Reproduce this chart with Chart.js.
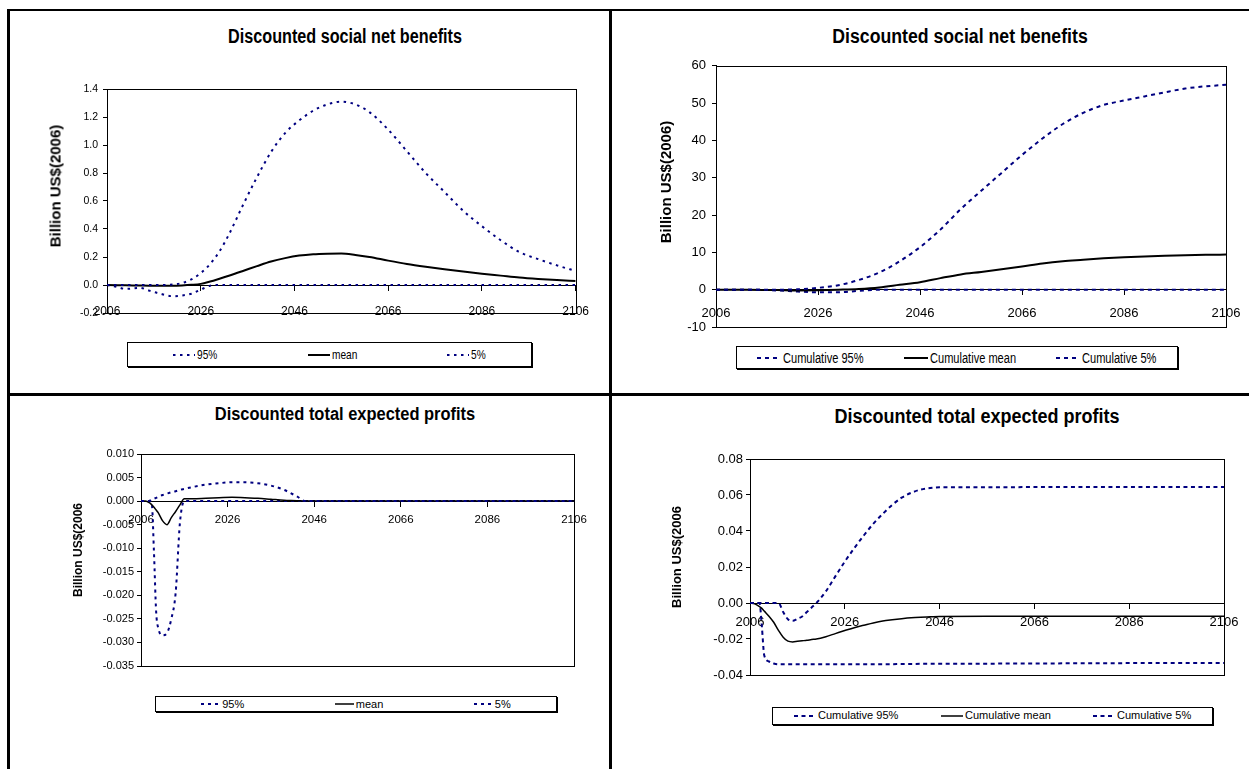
<!DOCTYPE html>
<html lang="en">
<head>
    <meta charset="UTF-8">
    <meta name="viewport" content="width=device-width, initial-scale=1.0">
    <title>Discounted social net benefits and expected profits</title>
    <script src="https://cdn.jsdelivr.net/npm/chart.js"></script>
    <style>
        body {
            margin: 0;
            background: #fff;
            color: #000;
            font-family: "Liberation Sans", Arial, sans-serif;
        }
        #page { position: relative; width: 1249px; height: 769px; overflow: hidden; }
        .rule { position: absolute; background: #000; }
        canvas { position: absolute; }
        .title, .ytitle { position: absolute; font-weight: bold; line-height: 1; white-space: nowrap; }
        .legend {
            position: absolute;
            box-sizing: border-box;
            border: 1px solid #000;
            box-shadow: 1px 1px 0 #000;
            display: flex;
            justify-content: space-around;
            align-items: center;
        }
        .legend .item { display: flex; align-items: center; white-space: nowrap; }
        .legend .txt { display: inline-block; transform-origin: left center; line-height: 1; }
    </style>
</head>
<body>
<div id="page">
    <!-- table frame round the four charts -->
    <div class="rule" style="left:7px;top:9px;width:1242px;height:2px"></div>
    <div class="rule" style="left:7px;top:9px;width:3px;height:760px"></div>
    <div class="rule" style="left:609px;top:9px;width:3px;height:760px"></div>
    <div class="rule" style="left:7px;top:393px;width:1242px;height:3px"></div>
</div>

<script>
    // shared
    const xLabels = ['2006', '2026', '2046', '2066', '2086', '2106'];
    const namesA = ['95%', 'mean', '5%'];
    const namesB = ['Cumulative 95%', 'Cumulative mean', 'Cumulative 5%'];

    // top left: discounted social net benefits
    const years1 = [2006, 2008, 2010, 2013, 2015, 2017, 2020, 2022, 2024, 2026, 2028, 2030, 2032, 2035, 2038, 2041, 2044,
        2047, 2050, 2053, 2056, 2059, 2062, 2066, 2070, 2074, 2078, 2082, 2086, 2090, 2094, 2098, 2102, 2106];
    const p1High = [0, 0, 0, 0, 0, 0, 0.004, 0.014, 0.04, 0.085, 0.15, 0.24, 0.36, 0.57, 0.77, 0.95, 1.085,
        1.175, 1.245, 1.29, 1.31, 1.29, 1.235, 1.11, 0.955, 0.80, 0.665, 0.53, 0.42, 0.32, 0.235, 0.185, 0.14, 0.10];
    const p1Mean = [0, -0.001, -0.002, -0.004, -0.005, -0.005, -0.005, -0.003, 0.001, 0.008, 0.025, 0.045, 0.066, 0.10, 0.135, 0.168, 0.192,
        0.21, 0.22, 0.224, 0.225, 0.215, 0.2, 0.174, 0.15, 0.13, 0.112, 0.096, 0.081, 0.067, 0.053, 0.043, 0.035, 0.028];
    const p1Low = [0, -0.012, -0.028, -0.02, -0.04, -0.059, -0.08, -0.075, -0.062, -0.033, -0.005, 0, 0, 0, 0, 0, 0,
        0, 0, 0, 0, 0, 0, 0, 0, 0, 0, 0, 0, 0, 0, 0, 0, 0];
    const yLabels1 = ['-0.2', '0.0', '0.2', '0.4', '0.6', '0.8', '1.0', '1.2', '1.4'];

    // top right: cumulative discounted social net benefits
    const years2 = [2006, 2012, 2018, 2022, 2026, 2030, 2034, 2038, 2042, 2046, 2050, 2054, 2058, 2062, 2066,
        2070, 2074, 2078, 2082, 2086, 2090, 2094, 2098, 2102, 2106];
    const p2High = [0, 0, 0, 0.1, 0.5, 1.2, 2.6, 4.6, 7.6, 11.4, 16.1, 21.6, 26.5, 31.3, 36.1,
        40.5, 44.4, 47.4, 49.5, 50.7, 51.8, 52.9, 53.9, 54.5, 54.9];
    const p2Mean = [0, 0, -0.1, -0.2, -0.15, 0.0, 0.2, 0.6, 1.3, 2.0, 3.1, 4.1, 4.75, 5.45, 6.2,
        7.0, 7.6, 8.0, 8.4, 8.7, 8.9, 9.1, 9.25, 9.35, 9.4];
    const p2Low = [0, 0, -0.2, -0.5, -0.7, -0.7, -0.3, 0, 0, 0, 0, 0, 0, 0, 0,
        0, 0, 0, 0, 0, 0, 0, 0, 0, 0];
    const yLabels2 = ['-10', '0', '10', '20', '30', '40', '50', '60'];

    // bottom left: discounted total expected profits
    const years3 = [2006, 2007, 2008, 2008.5, 2009, 2009.5, 2010, 2011, 2012, 2013, 2014, 2015, 2016, 2018, 2021,
        2024, 2027, 2030, 2033, 2036, 2039, 2042, 2044, 2046, 2056, 2066, 2076, 2086, 2096, 2106];
    const p3High = [0, 0, 0.0001, 0.0003, 0.0005, 0.0007, 0.0009, 0.0013, 0.0016, 0.0019, 0.0021, 0.0024, 0.0026, 0.003, 0.0035,
        0.0038, 0.004, 0.004, 0.0038, 0.0033, 0.0024, 0.001, 0, 0, 0, 0, 0, 0, 0, 0];
    const p3Mean = [0, 0, -0.0004, -0.0008, -0.0013, -0.0019, -0.0025, -0.0042, -0.005, -0.0035, -0.0022, -0.0008, 0.0005, 0.0005, 0.0006,
        0.0007, 0.0008, 0.0007, 0.0006, 0.0004, 0.0002, 0.0001, 0, 0, 0, 0, 0, 0, 0, 0];
    const p3Low = [0, 0, 0, -0.0006, -0.011, -0.0235, -0.027, -0.0285, -0.028, -0.025, -0.0195, -0.0045, 0, 0, 0,
        0, 0, 0, 0, 0, 0, 0, 0, 0, 0, 0, 0, 0, 0, 0];
    const yLabels3 = ['-0.035', '-0.030', '-0.025', '-0.020', '-0.015', '-0.010', '-0.005', '0.000', '0.005', '0.010'];

    // bottom right: cumulative discounted total expected profits
    const years4 = [2006, 2007, 2008, 2008.5, 2009, 2010, 2011, 2012, 2013, 2014, 2015, 2016, 2017, 2018, 2019, 2020,
        2022, 2024, 2026, 2028, 2030, 2032, 2034, 2036, 2038, 2040, 2042, 2044, 2046, 2056, 2066, 2076, 2086, 2096, 2106];
    const p4High = [0, 0, 0, 0, 0, 0, 0, 0, -0.005, -0.009, -0.0099, -0.0088, -0.0075, -0.005, -0.0025, 0,
        0.0065, 0.0148, 0.023, 0.0305, 0.0375, 0.044, 0.0495, 0.0545, 0.0585, 0.0612, 0.063, 0.0639, 0.0643,
        0.0643, 0.0644, 0.0644, 0.0645, 0.0645, 0.0645];
    const p4Mean = [0, -0.0005, -0.002, -0.003, -0.0045, -0.0073, -0.0107, -0.0152, -0.019, -0.0212, -0.0216, -0.0213, -0.021, -0.0207, -0.0203, -0.02,
        -0.0187, -0.017, -0.0153, -0.0137, -0.0124, -0.0111, -0.01, -0.0093, -0.0087, -0.0082, -0.0079, -0.0077, -0.0075,
        -0.0074, -0.0074, -0.0074, -0.0074, -0.0074, -0.0074];
    const p4Low = [0, 0, 0, -0.013, -0.029, -0.0325, -0.0336, -0.034, -0.034, -0.034, -0.034, -0.034, -0.034, -0.034, -0.034, -0.034,
        -0.034, -0.034, -0.034, -0.034, -0.034, -0.034, -0.034, -0.034, -0.0339, -0.0339, -0.0338, -0.0338, -0.0338,
        -0.0337, -0.0336, -0.0335, -0.0334, -0.0334, -0.0334];
    const yLabels4 = ['-0.04', '-0.02', '0.00', '0.02', '0.04', '0.06', '0.08'];

    const NAVY = '#000080';
    Chart.defaults.font.family = "'Liberation Sans', Arial, sans-serif";
    Chart.defaults.color = '#000';

    // layout of each panel (page pixels)
    const panels = [
        {
            title: 'Discounted social net benefits', titleSize: 19.5, titleSx: 0.83, titleX: 345, titleBase: 43.3,
            yTitle: 'Billion US$(2006)', yTitleSize: 15, yTitleX: 55, yTitleY: 186,
            area: [107, 89, 577, 313], years: years1, series: [p1High, p1Mean, p1Low], names: namesA, yLabels: yLabels1,
            dash: [2.5, 4.5], meanWidth: 2, xFont: {size: 12}, xPad: 14, yFont: {size: 10.5}, yPad: 5,
            legend: [127, 342, 532, 367], legendSize: 13, legendSx: 0.78, sampleW: 22
        },
        {
            title: 'Discounted social net benefits', titleSize: 20, titleSx: 0.884, titleX: 960, titleBase: 42.7,
            yTitle: 'Billion US$(2006)', yTitleSize: 15, yTitleX: 665, yTitleY: 182,
            area: [716, 64, 1226, 327], years: years2, series: [p2High, p2Mean, p2Low], names: namesB, yLabels: yLabels2,
            dash: [4, 4], meanWidth: 2, xFont: {size: 13}, xPad: 11, yFont: {size: 13}, yPad: 6,
            legend: [736, 346, 1178, 369], legendSize: 14, legendSx: 0.79, sampleW: 24
        },
        {
            title: 'Discounted total expected profits', titleSize: 17.5, titleSx: 0.94, titleX: 345, titleBase: 421,
            yTitle: 'Billion US$(2006', yTitleSize: 12, yTitleX: 78, yTitleY: 550,
            area: [141, 454, 574, 666], years: years3, series: [p3High, p3Mean, p3Low], names: namesA, yLabels: yLabels3,
            dash: [3, 4], meanWidth: 1.5, xFont: {size: 11.5}, xPad: 7, yFont: {size: 11}, yPad: 3,
            legend: [155, 696, 557, 712], legendSize: 11, legendSx: 1, sampleW: 19
        },
        {
            title: 'Discounted total expected profits', titleSize: 20, titleSx: 0.9, titleX: 977, titleBase: 423,
            yTitle: 'Billion US$(2006', yTitleSize: 13, yTitleX: 676, yTitleY: 557,
            area: [750, 459, 1224, 675], years: years4, series: [p4High, p4Mean, p4Low], names: namesB, yLabels: yLabels4,
            dash: [4, 3.5], meanWidth: 1.5, xFont: {size: 13}, xPad: 7, yFont: {size: 13}, yPad: 3,
            legend: [772, 707, 1213, 725], legendSize: 11.5, legendSx: 0.96, sampleW: 22
        }
    ];

    // border round the plot area, under the lines
    const plotFrame = {
        id: 'plotFrame',
        beforeDatasetsDraw(chart) {
            const {ctx, chartArea: a} = chart;
            ctx.save();
            ctx.strokeStyle = '#000';
            ctx.lineWidth = 1;
            ctx.strokeRect(Math.round(a.left) + 0.5, Math.round(a.top) + 0.5,
                Math.round(a.right - a.left), Math.round(a.bottom - a.top));
            ctx.restore();
        }
    };

    function makePanel(p) {
        const page = document.getElementById('page');
        const [l, t, r, b] = p.area;
        const yw = 60, padT = 12, padR = 26, padB = 16;

        const canvas = document.createElement('canvas');
        const cw = r - l + yw + padR, ch = b - t + padT + padB;
        canvas.width = cw;
        canvas.height = ch;
        canvas.style.width = cw + 'px';
        canvas.style.height = ch + 'px';
        canvas.style.left = (l - yw) + 'px';
        canvas.style.top = (t - padT) + 'px';
        page.appendChild(canvas);

        const yVals = p.yLabels.map(Number);
        const chart = new Chart(canvas, {
            type: 'line',
            data: {
                datasets: p.series.map((vals, i) => ({
                    label: p.names[i],
                    data: vals.map((v, k) => ({x: p.years[k], y: v})),
                    borderColor: i === 1 ? '#000' : NAVY,
                    borderWidth: i === 1 ? p.meanWidth : 2,
                    borderDash: i === 1 ? [] : p.dash,
                    pointRadius: 0,
                    cubicInterpolationMode: 'monotone',
                    fill: false
                }))
            },
            options: {
                responsive: false,
                animation: false,
                events: [],
                layout: {padding: {left: 0, top: padT, right: padR, bottom: padB}},
                plugins: {legend: {display: false}, tooltip: {enabled: false}},
                scales: {
                    x: {
                        type: 'linear',
                        min: 2006,
                        max: 2106,
                        position: {y: 0},
                        afterBuildTicks: s => { s.ticks = xLabels.map(v => ({value: Number(v)})); },
                        ticks: {
                            callback: (v, i) => xLabels[i],
                            autoSkip: false, maxRotation: 0,
                            font: p.xFont, padding: p.xPad, color: '#000'
                        },
                        grid: {drawOnChartArea: false, tickLength: 5, color: '#000'},
                        border: {color: '#000'}
                    },
                    y: {
                        min: yVals[0],
                        max: yVals[yVals.length - 1],
                        afterBuildTicks: s => { s.ticks = yVals.map(v => ({value: v})); },
                        afterFit: s => { s.width = yw; },
                        ticks: {
                            callback: (v, i) => p.yLabels[i],
                            autoSkip: false,
                            font: p.yFont, padding: p.yPad, color: '#000'
                        },
                        grid: {drawOnChartArea: false, tickLength: 4, color: '#000'},
                        border: {color: '#000'}
                    }
                }
            },
            plugins: [plotFrame]
        });

        // chart title
        const tt = document.createElement('div');
        tt.className = 'title';
        tt.textContent = p.title;
        Object.assign(tt.style, {
            left: p.titleX + 'px',
            top: (p.titleBase - 0.8465 * p.titleSize) + 'px',
            fontSize: p.titleSize + 'px',
            transform: `translateX(-50%) scaleX(${p.titleSx})`
        });
        page.appendChild(tt);

        // value axis title
        const yt = document.createElement('div');
        yt.className = 'ytitle';
        yt.textContent = p.yTitle;
        Object.assign(yt.style, {
            left: p.yTitleX + 'px',
            top: p.yTitleY + 'px',
            fontSize: p.yTitleSize + 'px',
            transform: 'translate(-50%, -50%) rotate(-90deg)'
        });
        page.appendChild(yt);

        // boxed legend below the plot, built from the datasets
        const [ll, lt, lr, lb] = p.legend;
        const lg = document.createElement('div');
        lg.className = 'legend';
        Object.assign(lg.style, {
            left: ll + 'px', top: lt + 'px',
            width: (lr - ll) + 'px', height: (lb - lt) + 'px'
        });
        page.appendChild(lg);

        chart.data.datasets.forEach(ds => {
            const item = document.createElement('span');
            item.className = 'item';
            const sw = p.sampleW;
            const dash = ds.borderDash.length ? ds.borderDash.join(' ') : 'none';
            item.innerHTML = `<svg width="${sw}" height="4"><line x1="0" y1="2" x2="${sw}" y2="2" stroke="${ds.borderColor}" stroke-width="${ds.borderWidth}" stroke-dasharray="${dash}"/></svg>`;
            const txt = document.createElement('span');
            txt.className = 'txt';
            txt.textContent = ds.label;
            txt.style.fontSize = p.legendSize + 'px';
            txt.style.marginLeft = '2px';
            item.appendChild(txt);
            lg.appendChild(item);
            txt.style.transform = `scaleX(${p.legendSx})`;
            txt.style.marginRight = (-(1 - p.legendSx) * txt.offsetWidth) + 'px';
        });
    }

    panels.forEach(makePanel);
</script>
</body>
</html>
